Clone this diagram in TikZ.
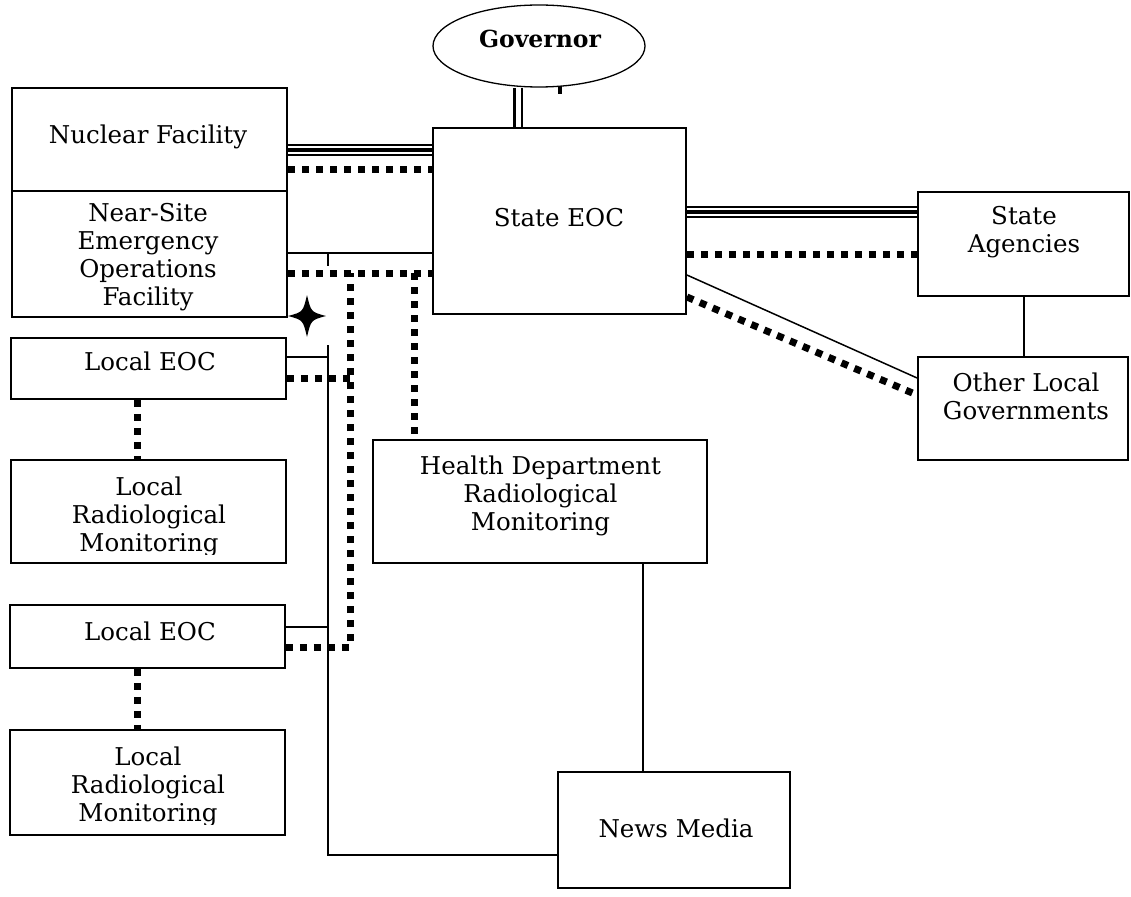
\documentclass[tikz,border=0pt]{standalone}
\usepackage{fontspec}
\setmainfont{DejaVu Serif}
\usetikzlibrary{shapes.geometric,calc}
\begin{document}
\begin{tikzpicture}[x=1pt,y=-1pt,
  box/.style={draw, line width=1.8pt, inner sep=0pt},
  lbl/.style={align=center, inner sep=0pt, font=\fontsize{24.5}{28}\selectfont},
  thinline/.style={line width=1.5pt},
  dots/.style={line width=7pt, dash pattern=on 7pt off 7pt},
  triple/.style={line width=1.6pt, double, double distance=8pt},
  tripmid/.style={line width=3.5pt},
  govline/.style={line width=2.8pt, double, double distance=5pt},
]
\useasboundingbox[fill=white] (0,0) rectangle (1131,896);

% ---- boxes ----
\node[ellipse, draw, line width=1.3pt, minimum width=212pt, minimum height=82pt, inner sep=0pt] (gov) at (539,46) {};
\node[box, line width=2.8pt, minimum width=275pt, minimum height=103pt] (nf) at (149.5,139.5) {};
\node[box, minimum width=275pt, minimum height=126pt] (ns) at (149.5,254) {};
\node[box, minimum width=253pt, minimum height=186pt] (seoc) at (559.5,221) {};
\node[box, minimum width=211pt, minimum height=104pt] (sa) at (1023.5,244) {};
\node[box, minimum width=210pt, minimum height=103pt] (olg) at (1023,408.5) {};
\node[box, minimum width=275pt, minimum height=61pt] (le1) at (148.5,368.5) {};
\node[box, minimum width=275pt, minimum height=103pt] (lr1) at (148.5,511.5) {};
\node[box, minimum width=275pt, minimum height=63pt] (le2) at (147.5,636.5) {};
\node[box, minimum width=275pt, minimum height=105pt] (lr2) at (147.5,782.5) {};
\node[box, minimum width=334pt, minimum height=123pt] (hd) at (540,501.5) {};
\node[box, minimum width=232pt, minimum height=116pt] (nm) at (674,830) {};

% ---- labels ----
\node[lbl, font=\fontsize{23.5}{28}\bfseries] (govt) at (540,39) {Governor};
\node[lbl] (nft) at (148,136.5) {Nuclear Facility};
\node[lbl] (nst) at (148,257) {Near-Site\\Emergency\\Operations\\Facility};
\node[lbl] (seoct) at (559,218) {State EOC};
\node[lbl] (sat) at (1024,232) {State\\Agencies};
\node[lbl] (olgt) at (1026,396.5) {Other Local\\Governments};
\node[lbl] (le1t) at (150,361.5) {Local EOC};
\begin{scope}
  \clip (0,440) rectangle (300,554);
  \node[lbl] (lr1t) at (149,517) {Local\\Radiological\\Monitoring};
\end{scope}
\node[lbl] (hdt) at (540.5,496) {Health Department\\Radiological\\Monitoring};
\node[lbl] (le2t) at (150,631.5) {Local EOC};
\begin{scope}
  \clip (0,700) rectangle (300,824);
  \node[lbl] (lr2t) at (148,787) {Local\\Radiological\\Monitoring};
\end{scope}
\node[lbl] (nmt) at (676,828.5) {News Media};

% ---- Governor to State EOC ----
\draw[govline] (gov.south -| 518,0) -- (seoc.north -| 518,0);
\coordinate (stub) at (560,86);
\draw[line width=4.5pt] (stub) -- ++(0,8);

% ---- Nuclear Facility / Near-Site to State EOC ----
\draw[triple] (nf.east |- 0,150) -- (seoc.west |- 0,150);
\draw[tripmid] (nf.east |- 0,150) -- (seoc.west |- 0,150);
\draw[dots] (nf.east |- 0,170) -- (seoc.west |- 0,170);
\draw[thinline] (ns.east |- 0,253) -- (seoc.west |- 0,253);
\coordinate (tick) at (328,253);
\draw[thinline] (tick) -- ++(0,13);
\draw[dots] (ns.east |- 0,273) -- (seoc.west |- 0,273);

% ---- State EOC to State Agencies / Other Local Governments ----
\draw[triple] (seoc.east |- 0,212) -- (sa.west |- 0,212);
\draw[tripmid] (seoc.east |- 0,212) -- (sa.west |- 0,212);
\draw[dots] (seoc.east |- 0,254) -- (sa.west |- 0,254);
\draw[thinline] (seoc.east |- 0,275) -- (olg.west |- 0,378);
\draw[dots] (seoc.east |- 0,297) -- (olg.west |- 0,395);
\draw[thinline] (sa.south -| 1024,0) -- (olg.north -| 1024,0);

% ---- dotted trunks from the State EOC line ----
\coordinate (j1) at (350,273);
\coordinate (j2) at (414,273);
\draw[dots] (le2.east |- 0,647) -| (j1);
\draw[dots] (le1.east |- 0,378) -- (j1 |- 0,378);
\draw[dots] (j2) -- (j2 |- hd.north);

% ---- local EOCs to their monitoring teams ----
\draw[dots] (le1.south -| 137,0) -- (lr1.north -| 137,0);
\draw[dots] (le2.south -| 137,0) -- (lr2.north -| 137,0);

% ---- thin trunk to News Media ----
\coordinate (ttop) at (328,345);
\draw[thinline] (ttop) |- (nm.west |- 0,855);
\draw[thinline] (le1.east |- 0,357) -- (ttop |- 0,357);
\draw[thinline] (le2.east |- 0,627) -- (ttop |- 0,627);
\draw[thinline] (hd.south -| 643,0) -- (nm.north -| 643,0);

% ---- star at the Near-Site corner ----
\fill[shift={(307,316)}] (0,-21) .. controls (4,-4) .. (19,0)
  .. controls (4,4) .. (0,21) .. controls (-4,4) .. (-19,0)
  .. controls (-4,-4) .. (0,-21) -- cycle;
\end{tikzpicture}
\end{document}
